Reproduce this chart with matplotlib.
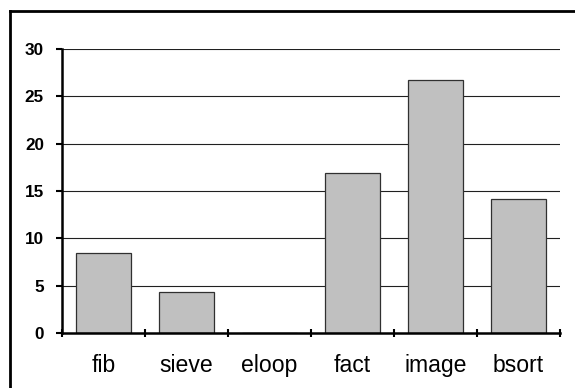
import matplotlib
matplotlib.use("Agg")
import matplotlib.pyplot as plt
from matplotlib.lines import Line2D
import numpy as np

categories = ["fib", "sieve", "eloop", "fact", "image", "bsort"]
values = [8.5, 4.3, 0.0, 16.9, 26.7, 14.2]
yticks = [0, 5, 10, 15, 20, 25, 30]

plt.rcParams['font.family'] = ['Liberation Sans', 'DejaVu Sans']

fig = plt.figure(figsize=(5.75, 3.88), dpi=100)
W, H = 575, 388
ax = fig.add_axes([62 / W, 1 - 333 / H, (560 - 62) / W, (333 - 49) / H])

x = np.arange(len(categories))
ax.bar(x, values, width=0.67, color="#C0C0C0", edgecolor="#303030", linewidth=0.9, zorder=3)

ax.set_xlim(-0.5, len(categories) - 0.5)
ax.set_ylim(0, 30)
ax.set_yticks(yticks)
ax.set_yticklabels([str(v) for v in yticks], fontweight="bold", fontsize=12.3)
for v in yticks[1:]:
    ax.axhline(v, color="#202020", linewidth=0.8, zorder=1)

ax.set_xticks(np.arange(-0.5, len(categories), 1.0))
ax.set_xticklabels([])
ax.set_xticks(x, minor=True)
ax.set_xticklabels(categories, minor=True, fontsize=16.6)
ax.tick_params(axis="x", which="major", direction="inout", length=6, width=1.5, color="black")
ax.tick_params(axis="x", which="minor", length=0, pad=15)
ax.tick_params(axis="y", direction="out", length=4, width=1.5, pad=9)

for s in ["top", "right"]:
    ax.spines[s].set_visible(False)
for s in ["left", "bottom"]:
    ax.spines[s].set_linewidth(1.8)
    ax.spines[s].set_zorder(4)

# outer frame (only top and left visible)
fig.add_artist(Line2D([10 / W, 10 / W], [-0.1, 1 - 11 / H], transform=fig.transFigure, color="black", linewidth=2))
fig.add_artist(Line2D([10 / W, 1.1], [1 - 11 / H, 1 - 11 / H], transform=fig.transFigure, color="black", linewidth=2))

fig.savefig("out.png", dpi=100)
